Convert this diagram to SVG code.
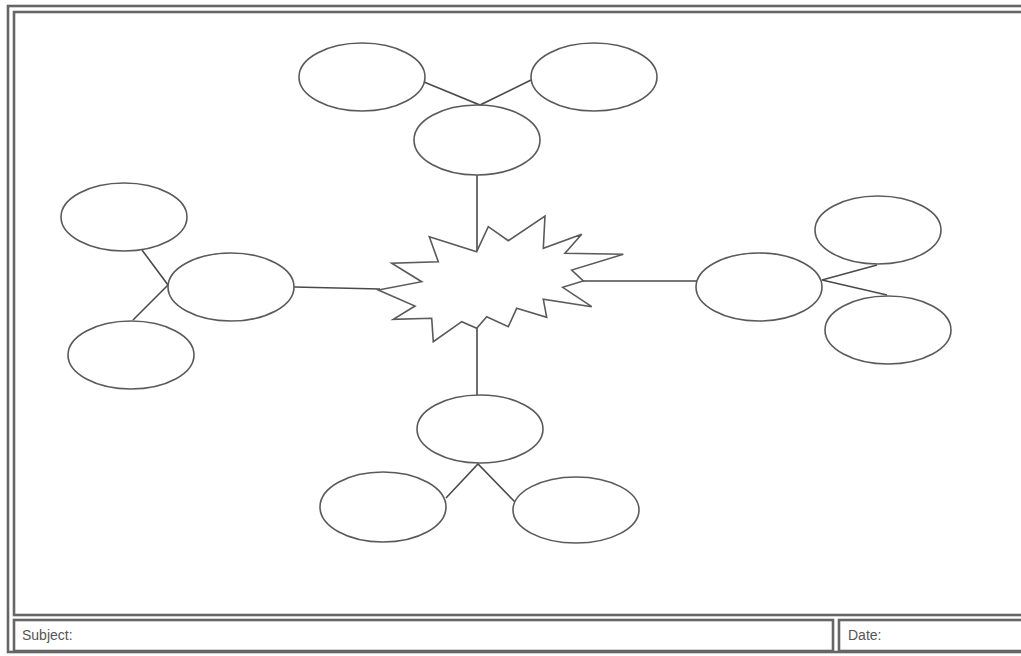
<svg xmlns="http://www.w3.org/2000/svg" width="1021" height="656" viewBox="0 0 1021 656">
<style>
.frame{fill:none;stroke:#666;stroke-width:2.6}
.node{fill:#fff;stroke:#5a5a5a;stroke-width:1.6}
.conn{stroke:#4a4a4a;stroke-width:1.6;fill:none}
.lbl{font-family:"Liberation Sans",Arial,sans-serif;font-size:14px;fill:#555}
</style>
<rect width="1021" height="656" fill="#fff"/>
<g id="frame">
<rect class="frame" x="8" y="6" width="1030" height="646"/>
<rect class="frame" x="14" y="12" width="1030" height="603"/>
<rect class="frame" x="14" y="620" width="819" height="31"/>
<rect class="frame" x="839" y="620" width="200" height="31"/>
<text class="lbl" x="22" y="640">Subject:</text>
<text class="lbl" x="848" y="640">Date:</text>
</g>
<g id="connectors">
<line class="conn" x1="477" y1="175" x2="477" y2="252"/>
<polyline class="conn" points="424,82 480,105 531,80"/>
<line class="conn" x1="294" y1="287" x2="380" y2="289"/>
<polyline class="conn" points="142,250 168,285 133,320"/>
<line class="conn" x1="583" y1="281" x2="697" y2="281"/>
<polyline class="conn" points="877,265 822,280 887,295"/>
<line class="conn" x1="477" y1="328" x2="477" y2="395"/>
<polyline class="conn" points="446,498 478,464 515,502"/>
</g>
<g id="center">
<polygon class="node" points="476.7,251.7 488.3,226.7 508.3,240.7 545,216 543.3,248.3 581.7,234.3 565,253.3 623.3,254.3 571.7,270 583.3,281 562.7,287.3 591.7,306.7 543.3,299.3 546.7,317.3 516.7,308.3 508.3,326.7 486.7,316.7 476.7,328.3 461.7,321.7 433.3,341.7 431.7,318.3 393.3,319.3 415,306 378.3,290 421.7,281.7 391.7,263.3 438.3,261.7 429.3,236.7"/>
</g>
<g id="top"><ellipse class="node" cx="477" cy="140" rx="63" ry="35"/></g>
<g id="top-left"><ellipse class="node" cx="362" cy="77" rx="63" ry="34"/></g>
<g id="top-right"><ellipse class="node" cx="594" cy="77" rx="63" ry="34"/></g>
<g id="left"><ellipse class="node" cx="231" cy="287" rx="63" ry="34"/></g>
<g id="left-top"><ellipse class="node" cx="124" cy="217" rx="63" ry="34"/></g>
<g id="left-bottom"><ellipse class="node" cx="131" cy="355" rx="63" ry="34"/></g>
<g id="right"><ellipse class="node" cx="759" cy="287" rx="63" ry="34"/></g>
<g id="right-top"><ellipse class="node" cx="878" cy="230" rx="63" ry="34"/></g>
<g id="right-bottom"><ellipse class="node" cx="888" cy="330" rx="63" ry="34"/></g>
<g id="bottom"><ellipse class="node" cx="480" cy="429" rx="63" ry="34"/></g>
<g id="bottom-left"><ellipse class="node" cx="383" cy="507" rx="63" ry="35"/></g>
<g id="bottom-right"><ellipse class="node" cx="576" cy="510" rx="63" ry="33"/></g>
</svg>
